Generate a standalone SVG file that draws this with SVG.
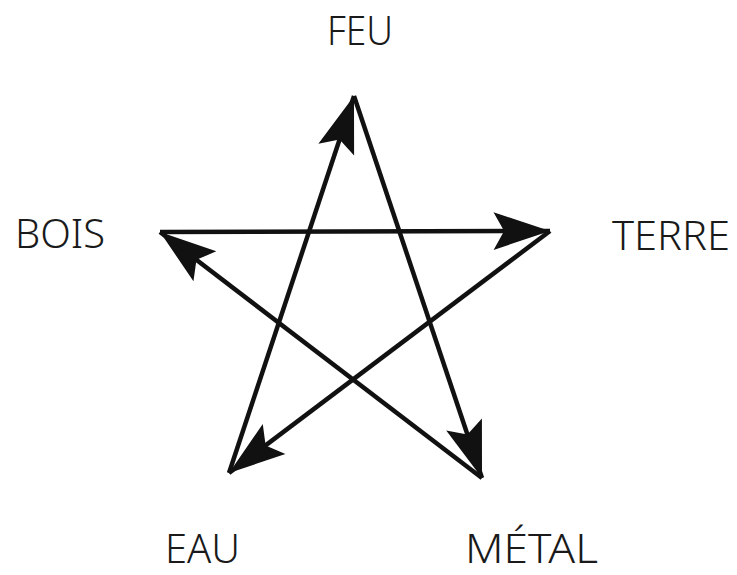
<svg xmlns="http://www.w3.org/2000/svg" width="737" height="575" viewBox="0 0 737 575">
<defs>
<style>
.lbl{font-family:"Noto Sans",Lato,"Liberation Sans",sans-serif;font-weight:300;font-size:40px;fill:#1a1a1a;}
.edge{stroke:#111;stroke-width:4.5;fill:none;marker-end:url(#ah);}
</style>
<marker id="ah" markerUnits="userSpaceOnUse" markerWidth="60" markerHeight="40" viewBox="0 0 50 34" refX="48" refY="17" orient="auto">
<path d="M0,1 L48,17 L0,33 L9,17 Z" fill="#111"/>
</marker>
</defs>
<rect width="737" height="575" fill="#fff"/>
<g id="connectors">
<line class="edge" x1="160" y1="232" x2="550" y2="231"/>
<line class="edge" x1="550" y1="231" x2="229" y2="473"/>
<line class="edge" x1="229" y1="473" x2="354" y2="96"/>
<line class="edge" x1="354" y1="96" x2="482" y2="478"/>
<line class="edge" x1="482" y1="478" x2="160" y2="232"/>
</g>
<g id="feu"><text class="lbl" x="327" y="45" textLength="66" lengthAdjust="spacingAndGlyphs">FEU</text></g>
<g id="bois"><text class="lbl" x="15" y="248" textLength="90" lengthAdjust="spacingAndGlyphs">BOIS</text></g>
<g id="terre"><text class="lbl" x="612" y="250" textLength="118" lengthAdjust="spacingAndGlyphs">TERRE</text></g>
<g id="eau"><text class="lbl" x="165" y="563" textLength="75" lengthAdjust="spacingAndGlyphs">EAU</text></g>
<g id="metal"><text class="lbl" x="465" y="563" textLength="133" lengthAdjust="spacingAndGlyphs">MÉTAL</text></g>
</svg>
